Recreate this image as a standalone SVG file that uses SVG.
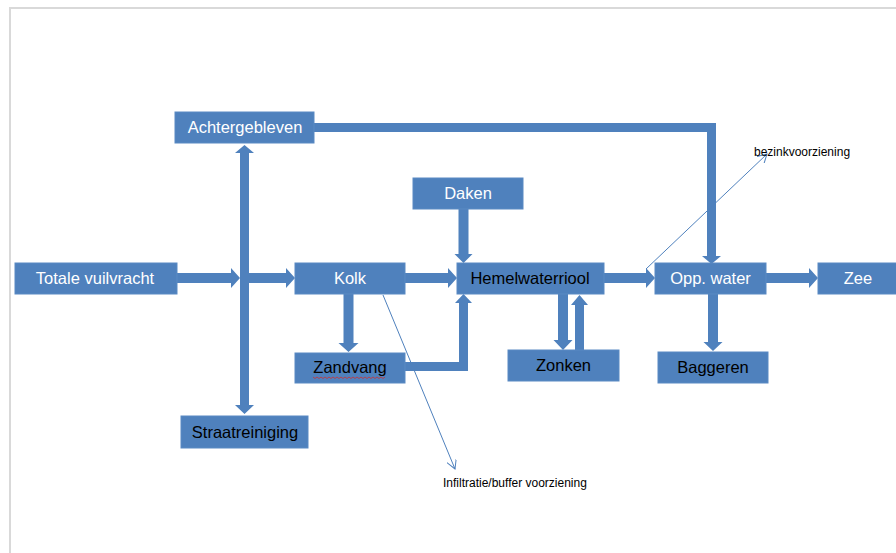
<svg xmlns="http://www.w3.org/2000/svg" width="896" height="553" viewBox="0 0 896 553">
<defs>
<style>
.box{fill:#4F81BD;stroke:#5a8ac3;stroke-width:1}
.arr{fill:#4F81BD}
.lbl{font-family:"Liberation Sans",Arial,sans-serif;font-size:16.5px;text-anchor:middle}
.w{fill:#ffffff}
.k{fill:#000000}
.note{font-family:"Liberation Sans",Arial,sans-serif;font-size:12px;fill:#000000}
.thin{fill:none;stroke:#4F81BD;stroke-width:1;marker-end:url(#open)}
</style>
<marker id="open" viewBox="0 0 10 10" refX="9" refY="5" markerWidth="10" markerHeight="10" orient="auto" markerUnits="userSpaceOnUse">
<path d="M0,0 L9,5 L0,10" fill="none" stroke="#4F81BD" stroke-width="1"/>
</marker>
</defs>
<rect width="896" height="553" fill="#ffffff"/>
<path d="M10,553 V8 H896" fill="none" stroke="#d9d9d9" stroke-width="2"/>

<g id="connectors">
<polygon class="arr" points="177,273 231,273 231,268 240,278 231,288 231,283 177,283"/>
<polygon class="arr" points="249,273 286,273 286,268 295,278 286,288 286,283 249,283"/>
<polygon class="arr" points="405,273 448,273 448,268 457,278 448,288 448,283 405,283"/>
<polygon class="arr" points="604,273 646,273 646,268 655,278 646,288 646,283 604,283"/>
<polygon class="arr" points="766,273 809,273 809,268 818,278 809,288 809,283 766,283"/>
<polygon class="arr" points="244.5,145 254,153 249,153 249,405 254,405 244.5,414 235,405 240,405 240,153 235,153"/>
<polygon class="arr" points="458.5,209 468.5,209 468.5,254 472.5,254 463.5,263 454.5,254 458.5,254"/>
<polygon class="arr" points="343.5,294 353.5,294 353.5,343 358.5,343 348.5,352 338.5,343 343.5,343"/>
<polygon class="arr" points="405,362 459,362 459,303 455,303 463.5,294 472,303 468,303 468,371 405,371"/>
<polygon class="arr" points="558,294 568,294 568,340 572.5,340 563,350 553.5,340 558,340"/>
<polygon class="arr" points="575,350 584,350 584,305 588,305 579.5,295 571,305 575,305"/>
<polygon class="arr" points="314,123 716,123 716,256 721,256 711.5,264 702,256 707,256 707,132 314,132"/>
<polygon class="arr" points="708,294 718,294 718,342 722.5,342 713,351 703.5,342 708,342"/>
<line class="thin" x1="646" y1="269" x2="767" y2="154"/>
<line class="thin" x1="383" y1="295" x2="455" y2="469"/>
</g>

<g id="n-achtergebleven"><rect class="box" x="175" y="112" width="139" height="31"/><text class="lbl w" x="245" y="133">Achtergebleven</text></g>
<g id="n-totale"><rect class="box" x="15" y="263" width="162" height="31"/><text class="lbl w" x="95" y="284">Totale vuilvracht</text></g>
<g id="n-kolk"><rect class="box" x="295" y="263" width="110" height="31"/><text class="lbl w" x="350" y="284">Kolk</text></g>
<g id="n-daken"><rect class="box" x="413" y="178" width="110" height="31"/><text class="lbl w" x="468" y="199">Daken</text></g>
<g id="n-hemelwaterriool"><rect class="box" x="457" y="263" width="147" height="31"/><text class="lbl k" x="530" y="284">Hemelwaterriool</text></g>
<g id="n-zandvang"><rect class="box" x="295" y="353" width="110" height="30"/><text class="lbl k" x="350" y="373">Zandvang</text>
<path d="M313,377 l2,1.5 l2,-1.5 l2,1.5 l2,-1.5 l2,1.5 l2,-1.5 l2,1.5 l2,-1.5 l2,1.5 l2,-1.5 l2,1.5 l2,-1.5 l2,1.5 l2,-1.5 l2,1.5 l2,-1.5 l2,1.5 l2,-1.5 l2,1.5 l2,-1.5 l2,1.5 l2,-1.5 l2,1.5 l2,-1.5 l2,1.5 l2,-1.5 l2,1.5 l2,-1.5 l2,1.5 l2,-1.5 l2,1.5 l2,-1.5 l2,1.5 l2,-1.5 l2,1.5 l2,-1.5" fill="none" stroke="#d03030" stroke-width="0.8"/></g>
<g id="n-zonken"><rect class="box" x="508" y="350" width="111" height="31"/><text class="lbl k" x="563.5" y="371">Zonken</text></g>
<g id="n-oppwater"><rect class="box" x="655" y="263" width="111" height="31"/><text class="lbl w" x="710.5" y="284">Opp. water</text></g>
<g id="n-zee"><rect class="box" x="818" y="263" width="80" height="31"/><text class="lbl w" x="858" y="284">Zee</text></g>
<g id="n-baggeren"><rect class="box" x="658" y="352" width="110" height="31"/><text class="lbl k" x="713" y="373">Baggeren</text></g>
<g id="n-straatreiniging"><rect class="box" x="181" y="416" width="127" height="32"/><text class="lbl k" x="245" y="438">Straatreiniging</text></g>

<g id="notes">
<text class="note" x="754" y="156">bezinkvoorziening</text>
<text class="note" x="443" y="487">Infiltratie/buffer voorziening</text>
</g>
</svg>
